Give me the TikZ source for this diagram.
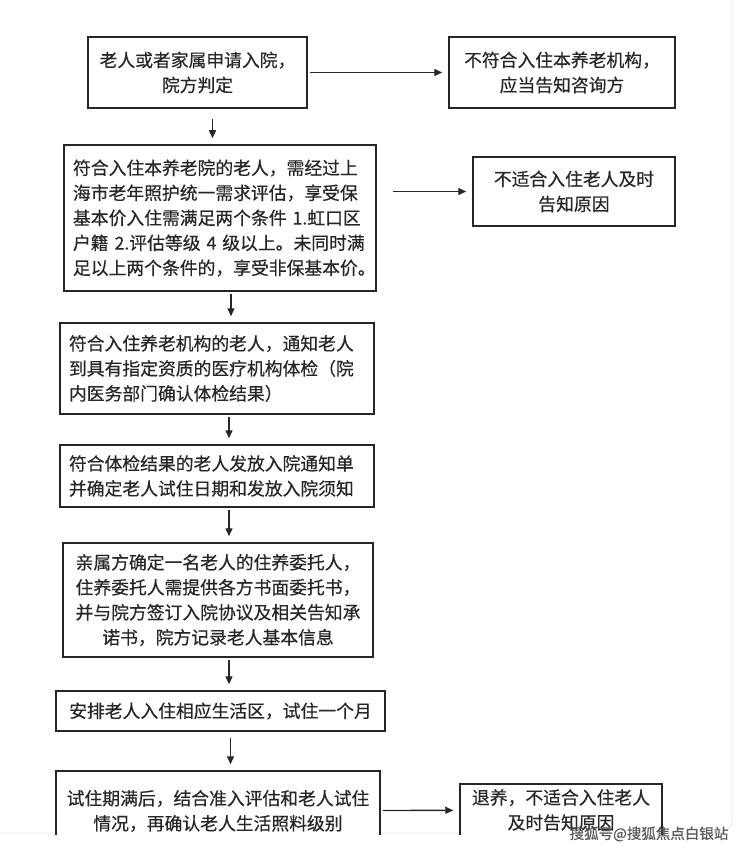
\documentclass[tikz,border=0pt]{standalone}
\usepackage{fontspec}
\usetikzlibrary{arrows.meta,positioning,calc}
\newfontfamily\cjk[FakeBold=0.4]{Noto Sans CJK SC}
\definecolor{Ink}{HTML}{262626}
\definecolor{Card}{HTML}{E6E6E6}

\begin{document}
\begin{tikzpicture}[x=1pt,y=-1pt,
  every node/.style={font=\cjk\fontsize{17.8}{25}\selectfont,text=Ink},
  box/.style={draw=Ink,line width=1.5pt,fill=white,inner xsep=9pt,inner ysep=0pt},
  arr/.style={draw=Ink,line width=1.4pt,-{Triangle[length=8pt,width=7pt]},shorten <=2pt,shorten >=6pt}]
  \useasboundingbox (0,0) rectangle (740,848);
  \fill[white] (0,0) rectangle (740,848);
  \draw[Card,line width=0.8pt] (-10,-10) -- (719,-10) arc[start angle=90,end angle=0,radius=13] -- (732,820) arc[start angle=0,end angle=90,radius=13] -- (-10,833);

  \begin{scope}
  \clip (0,0) rectangle (740,834);
  % first row
  \node[box,text width=201pt,minimum height=71pt,align=center] (a) at (197.5,72.5) {老人或者家属申请入院，\\院方判定};
  \node[box,text width=208pt,minimum height=71pt,align=center] (b) at (562,72.5) {不符合入住本养老机构，\\应当告知咨询方};
  % main column
  \node[box,text width=294pt,minimum height=146pt,align=left] (c) at (220,218) {符合入住本养老院的老人，需经过上\\海市老年照护统一需求评估，享受保\\基本价入住需满足两个条件 1.虹口区\\户籍 2.评估等级 4 级以上。未同时满\\足以上两个条件的，享受非保基本价。};
  \node[box,text width=184pt,minimum height=69pt,align=center] (d) at (574,191.5) {不适合入住老人及时\\告知原因};
  \node[box,text width=296pt,minimum height=91pt,align=left] (e) at (217,368.5) {符合入住养老机构的老人，通知老人\\到具有指定资质的医疗机构体检（院\\内医务部门确认体检结果）};
  \node[box,text width=296pt,minimum height=62pt,align=left] (f) at (217,476) {符合体检结果的老人发放入院通知单\\并确定老人试住日期和发放入院须知};
  \node[box,text width=292pt,minimum height=114pt,align=center] (g) at (218,600) {亲属方确定一名老人的住养委托人，\\住养委托人需提供各方书面委托书，\\并与院方签订入院协议及相关告知承\\诺书，院方记录老人基本信息};
  \node[box,text width=311pt,minimum height=40pt,align=center] (h) at (220.5,711) {安排老人入住相应生活区，试住一个月};
  \node[box,text width=306pt,minimum height=80pt,align=center] (i) at (218,811) {试住期满后，结合准入评估和老人试住\\情况，再确认老人生活照料级别};
  \node[box,text width=184pt,minimum height=52pt,align=center] (j) at (561,810) {退养，不适合入住老人\\及时告知原因};

  % connectors
  \draw[arr] (a) -- (b);
  \draw[arr,shorten <=10pt] ([xshift=15pt]a.south) -- ([xshift=15pt]a.south |- c.north);
  \draw[arr,shorten <=16pt] (c.east |- d.west) -- (d.west);
  \draw[arr] ([xshift=11pt]c.south) -- ([xshift=11pt]c.south |- e.north);
  \draw[arr] ([xshift=12pt]e.south) -- ([xshift=12pt]e.south |- f.north);
  \draw[arr] ([xshift=12pt]f.south) -- ([xshift=12pt]f.south |- g.north);
  \draw[arr] ([xshift=11pt]g.south) -- ([xshift=11pt]g.south |- h.north);
  \draw[arr,shorten <=6pt] ([xshift=10pt]h.south) -- ([xshift=10pt]h.south |- i.north);
  \draw[arr] (i) -- (j);
  \end{scope}

  \node[font=\cjk\fontsize{14.5}{16}\selectfont,text=black!65] (wm) at (649,834) {搜狐号@搜狐焦点白银站};
\end{tikzpicture}
\end{document}
